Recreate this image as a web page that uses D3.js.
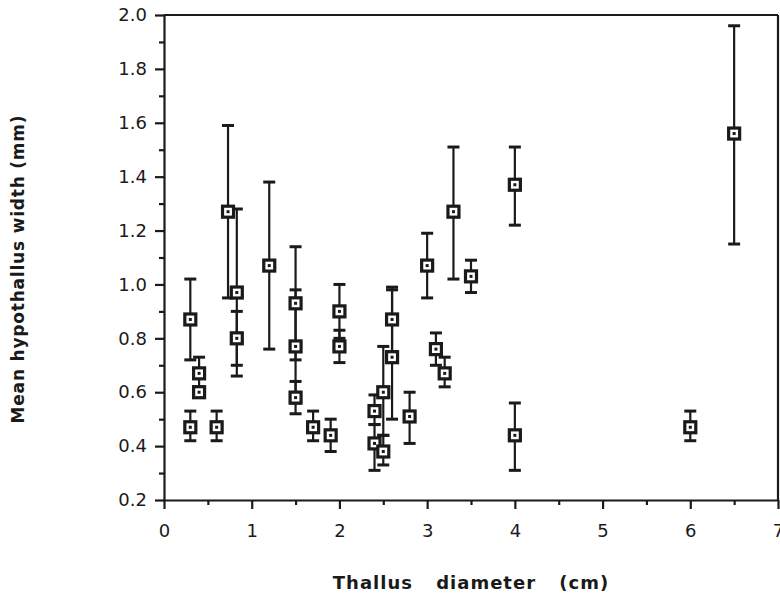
<!DOCTYPE html>
<html>
<head>
<meta charset="utf-8">
<script src="https://cdn.jsdelivr.net/npm/d3@7"></script>
<style>
body { margin: 0; background: #fff; }
.tick text { font-family: "DejaVu Sans", sans-serif; font-size: 18px; fill: #1a1a1a; }
.axis path, .axis line { stroke: #1a1a1a; stroke-width: 2.2; }
.errbar { stroke: #1a1a1a; stroke-width: 2.2; }
.cap { stroke: #1a1a1a; stroke-width: 3; }
.marker { fill: #fff; stroke: #1a1a1a; stroke-width: 3.2; }
.title { font-family: "DejaVu Sans", sans-serif; font-weight: bold; fill: #1a1a1a; }
</style>
</head>
<body>
<script>
// thallus diameter (cm), mean hypothallus width (mm) and error bar ends
var diameter = [0.3, 0.3, 0.4, 0.4, 0.6, 0.73, 0.83, 0.83, 1.2, 1.5, 1.5, 1.5, 1.7, 1.9, 2.0, 2.0,
                2.4, 2.4, 2.5, 2.5, 2.6, 2.6, 2.8, 3.0, 3.1, 3.2, 3.3, 3.5, 4.0, 4.0, 6.0, 6.5];
var meanWidth = [0.87, 0.47, 0.67, 0.60, 0.47, 1.27, 0.97, 0.80, 1.07, 0.93, 0.77, 0.58, 0.47, 0.44, 0.90, 0.77,
                 0.53, 0.41, 0.60, 0.38, 0.87, 0.73, 0.51, 1.07, 0.76, 0.67, 1.27, 1.03, 1.37, 0.44, 0.47, 1.56];
var lower = [0.72, 0.42, 0.62, 0.59, 0.42, 0.95, 0.66, 0.70, 0.76, 0.72, 0.56, 0.52, 0.42, 0.38, 0.80, 0.71,
             0.48, 0.31, 0.44, 0.33, 0.75, 0.50, 0.41, 0.95, 0.70, 0.62, 1.02, 0.97, 1.22, 0.31, 0.42, 1.15];
var upper = [1.02, 0.53, 0.73, 0.61, 0.53, 1.59, 1.28, 0.90, 1.38, 1.14, 0.98, 0.64, 0.53, 0.50, 1.00, 0.83,
             0.59, 0.48, 0.77, 0.44, 0.99, 0.98, 0.60, 1.19, 0.82, 0.73, 1.51, 1.09, 1.51, 0.56, 0.53, 1.96];
var xTicks = [0, 1, 2, 3, 4, 5, 6, 7];
var yTicks = [0.2, 0.4, 0.6, 0.8, 1.0, 1.2, 1.4, 1.6, 1.8, 2.0];

var points = diameter.map(function(d, i) {
    return {x: d, y: meanWidth[i], lo: lower[i], hi: upper[i]};
});

var drawChart = function() {
    var width = 780, height = 597;
    var xScale = d3.scaleLinear().domain([0, 7]).range([164, 778]);
    var yScale = d3.scaleLinear().domain([0.2, 2.0]).range([500, 15]);

    var svg = d3.select("body").append("svg")
        .attr("width", width)
        .attr("height", height);

    // minor ticks
    svg.append("g").attr("class", "axis")
        .attr("transform", "translate(164,0)")
        .call(d3.axisLeft(yScale).tickValues(d3.range(0.3, 2.0, 0.2)).tickSize(5).tickFormat(""))
        .select(".domain").remove();
    svg.append("g").attr("class", "axis")
        .attr("transform", "translate(0,500)")
        .call(d3.axisBottom(xScale).tickValues(d3.range(0.5, 7, 1)).tickSize(5).tickFormat(""))
        .select(".domain").remove();

    // major ticks and labels
    svg.append("g").attr("class", "axis")
        .attr("transform", "translate(164,0)")
        .call(d3.axisLeft(yScale).tickValues(yTicks).tickSize(9).tickSizeOuter(0).tickPadding(8).tickFormat(d3.format(".1f")));
    svg.append("g").attr("class", "axis")
        .attr("transform", "translate(0,500)")
        .call(d3.axisBottom(xScale).tickValues(xTicks).tickSize(9).tickSizeOuter(0).tickPadding(15).tickFormat(d3.format("d")));

    // top and right frame
    svg.append("line").attr("x1", xScale(0)).attr("x2", xScale(7))
        .attr("y1", yScale(2.0)).attr("y2", yScale(2.0))
        .attr("stroke", "#1a1a1a").attr("stroke-width", 2.2);
    svg.append("line").attr("x1", xScale(7)).attr("x2", xScale(7))
        .attr("y1", yScale(2.0)).attr("y2", yScale(0.2))
        .attr("stroke", "#1a1a1a").attr("stroke-width", 2.2);

    // error bars
    var bars = svg.append("g").selectAll("g").data(points).enter().append("g");
    bars.append("line").classed("errbar", true)
        .attr("x1", function(d) { return xScale(d.x); })
        .attr("x2", function(d) { return xScale(d.x); })
        .attr("y1", function(d) { return yScale(d.lo); })
        .attr("y2", function(d) { return yScale(d.hi); });
    bars.selectAll(".cap").data(function(d) { return [{x: d.x, v: d.lo}, {x: d.x, v: d.hi}]; })
        .enter().append("line").classed("cap", true)
        .attr("x1", function(d) { return xScale(d.x) - 6; })
        .attr("x2", function(d) { return xScale(d.x) + 6; })
        .attr("y1", function(d) { return yScale(d.v); })
        .attr("y2", function(d) { return yScale(d.v); });

    // square markers with centre dot
    var marks = svg.append("g").selectAll("g").data(points).enter().append("g")
        .attr("transform", function(d) { return "translate(" + xScale(d.x) + "," + yScale(d.y) + ")"; });
    marks.append("rect").classed("marker", true)
        .attr("x", -5.5).attr("y", -5.5).attr("width", 11).attr("height", 11);
    marks.append("rect").attr("x", -1.5).attr("y", -1.5).attr("width", 3).attr("height", 3).attr("fill", "#1a1a1a");

    // axis titles
    svg.append("text").attr("class", "title")
        .attr("x", 471).attr("y", 589)
        .attr("text-anchor", "middle")
        .style("font-size", "18px")
        .style("letter-spacing", "1px")
        .style("word-spacing", "16px")
        .text("Thallus diameter (cm)");
    svg.append("text").attr("class", "title")
        .attr("transform", "translate(24,269) rotate(-90)")
        .attr("text-anchor", "middle")
        .style("font-size", "17px")
        .style("letter-spacing", "0.8px")
        .text("Mean hypothallus width (mm)");
}

window.onload = drawChart;
</script>
</body>
</html>
